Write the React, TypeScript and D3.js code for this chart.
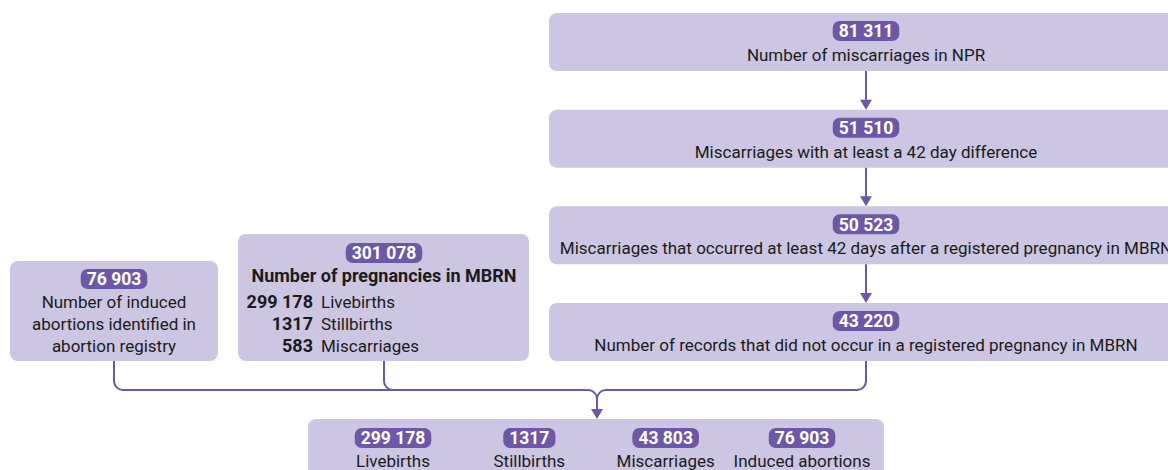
import React, { useRef, useEffect } from "react";
import * as d3 from "d3";

// flow steps on the right (NPR miscarriages)
const stepCounts = [81311, 51510, 50523, 43220];
const stepLabels = [
  "Number of miscarriages in NPR",
  "Miscarriages with at least a 42 day difference",
  "Miscarriages that occurred at least 42 days after a registered pregnancy in MBRN",
  "Number of records that did not occur in a registered pregnancy in MBRN",
];

// abortion registry box
const abortionCount = 76903;
const abortionLines = ["Number of induced", "abortions identified in", "abortion registry"];

// MBRN box
const mbrnTotal = 301078;
const mbrnTitle = "Number of pregnancies in MBRN";
const mbrnCounts = [299178, 1317, 583];
const mbrnLabels = ["Livebirths", "Stillbirths", "Miscarriages"];

// final outcome box
const outcomeCounts = [299178, 1317, 43803, 76903];
const outcomeLabels = ["Livebirths", "Stillbirths", "Miscarriages", "Induced abortions"];

const FILL = "#ccc6e3";
const DARK = "#6c58a7";
const FONT = "Roboto, sans-serif";

const fmt = (n: number) => (n >= 10000 ? d3.format(",")(n).replace(/,/g, " ") : String(n));

const App = () => {
  const ref = useRef<SVGSVGElement>(null);

  useEffect(() => {
    const svg = d3.select(ref.current);
    svg.selectAll("*").remove();
    const g = svg.append("g").style("font-family", FONT);

    const badge = (cx: number, cy: number, value: number) => {
      const b = g.append("g");
      const rect = b.append("rect").attr("fill", DARK).attr("rx", 7);
      const t = b.append("text")
        .attr("x", cx).attr("y", cy).attr("dy", "0.36em")
        .attr("text-anchor", "middle").attr("fill", "white")
        .attr("font-weight", 700).attr("font-size", 17.5)
        .text(fmt(value));
      const w = (t.node() as SVGTextElement).getComputedTextLength() + 12;
      rect.attr("x", cx - w / 2).attr("y", cy - 10).attr("width", w).attr("height", 20);
    };

    const label = (x: number, y: number, s: string, anchor = "middle", weight = 400) =>
      g.append("text").attr("x", x).attr("y", y).attr("dy", "0.36em")
        .attr("text-anchor", anchor).attr("font-weight", weight)
        .attr("font-size", weight === 700 ? 18 : 17).attr("fill", "#1b1b1b").text(s);

    // right column of steps
    const rowY = d3.scaleBand<number>().domain(d3.range(stepCounts.length)).range([13, 361]).paddingInner(0.4);
    const rx0 = 549, rx1 = 1183, rcx = 866;
    stepCounts.forEach((v, i) => {
      const y = rowY(i)!;
      g.append("rect").attr("x", rx0).attr("y", y).attr("width", rx1 - rx0)
        .attr("height", rowY.bandwidth()).attr("rx", 8).attr("fill", FILL);
      badge(rcx, y + 18, v);
      label(rcx, y + 42, stepLabels[i]);
      if (i < stepCounts.length - 1) {
        const y2 = rowY(i + 1)!;
        g.append("line").attr("x1", rcx).attr("x2", rcx)
          .attr("y1", y + rowY.bandwidth()).attr("y2", y2 - 8)
          .attr("stroke", DARK).attr("stroke-width", 2);
        g.append("path").attr("d", `M${rcx - 6},${y2 - 10}L${rcx + 6},${y2 - 10}L${rcx},${y2}Z`).attr("fill", DARK);
      }
    });

    // abortion box
    g.append("rect").attr("x", 10).attr("y", 261).attr("width", 208).attr("height", 100).attr("rx", 8).attr("fill", FILL);
    badge(114, 279, abortionCount);
    abortionLines.forEach((s, i) => label(114, 302 + i * 22, s));

    // MBRN box
    g.append("rect").attr("x", 238).attr("y", 234).attr("width", 291).attr("height", 127).attr("rx", 8).attr("fill", FILL);
    badge(384, 253, mbrnTotal);
    label(384, 276, mbrnTitle, "middle", 700);
    mbrnCounts.forEach((v, i) => {
      label(313, 302 + i * 22, fmt(v), "end", 700);
      label(321, 302 + i * 22, mbrnLabels[i], "start");
    });

    // connectors
    const hy = 390, mx = 597, r = 9;
    const p = d3.path();
    p.moveTo(114, 361);
    p.arcTo(114, hy, 114 + r, hy, r);
    p.lineTo(mx - r, hy);
    p.arcTo(mx, hy, mx, hy + r, r);
    p.lineTo(mx, 409);
    p.moveTo(384, 361);
    p.arcTo(384, hy, 384 + r, hy, r);
    p.moveTo(rcx, 361);
    p.arcTo(rcx, hy, rcx - r, hy, r);
    p.lineTo(mx + r, hy);
    p.arcTo(mx, hy, mx, hy + r, r);
    g.append("path").attr("d", p.toString()).attr("fill", "none").attr("stroke", DARK).attr("stroke-width", 2);
    g.append("path").attr("d", `M${mx - 6},409L${mx + 6},409L${mx},419Z`).attr("fill", DARK);

    // outcome box
    g.append("rect").attr("x", 308).attr("y", 419).attr("width", 576).attr("height", 70).attr("rx", 8).attr("fill", FILL);
    const colX = d3.scalePoint<string>().domain(outcomeLabels).range([393, 802]);
    outcomeLabels.forEach((s, i) => {
      badge(colX(s)!, 438, outcomeCounts[i]);
      label(colX(s)!, 461, s);
    });
  });

  return (
    <div style={{ position: "absolute", left: 0, top: 0, width: 1168, height: 470, overflow: "hidden" }}>
      <svg ref={ref} width={1168} height={470} style={{ display: "block" }}></svg>
    </div>
  );
};

export default App;
